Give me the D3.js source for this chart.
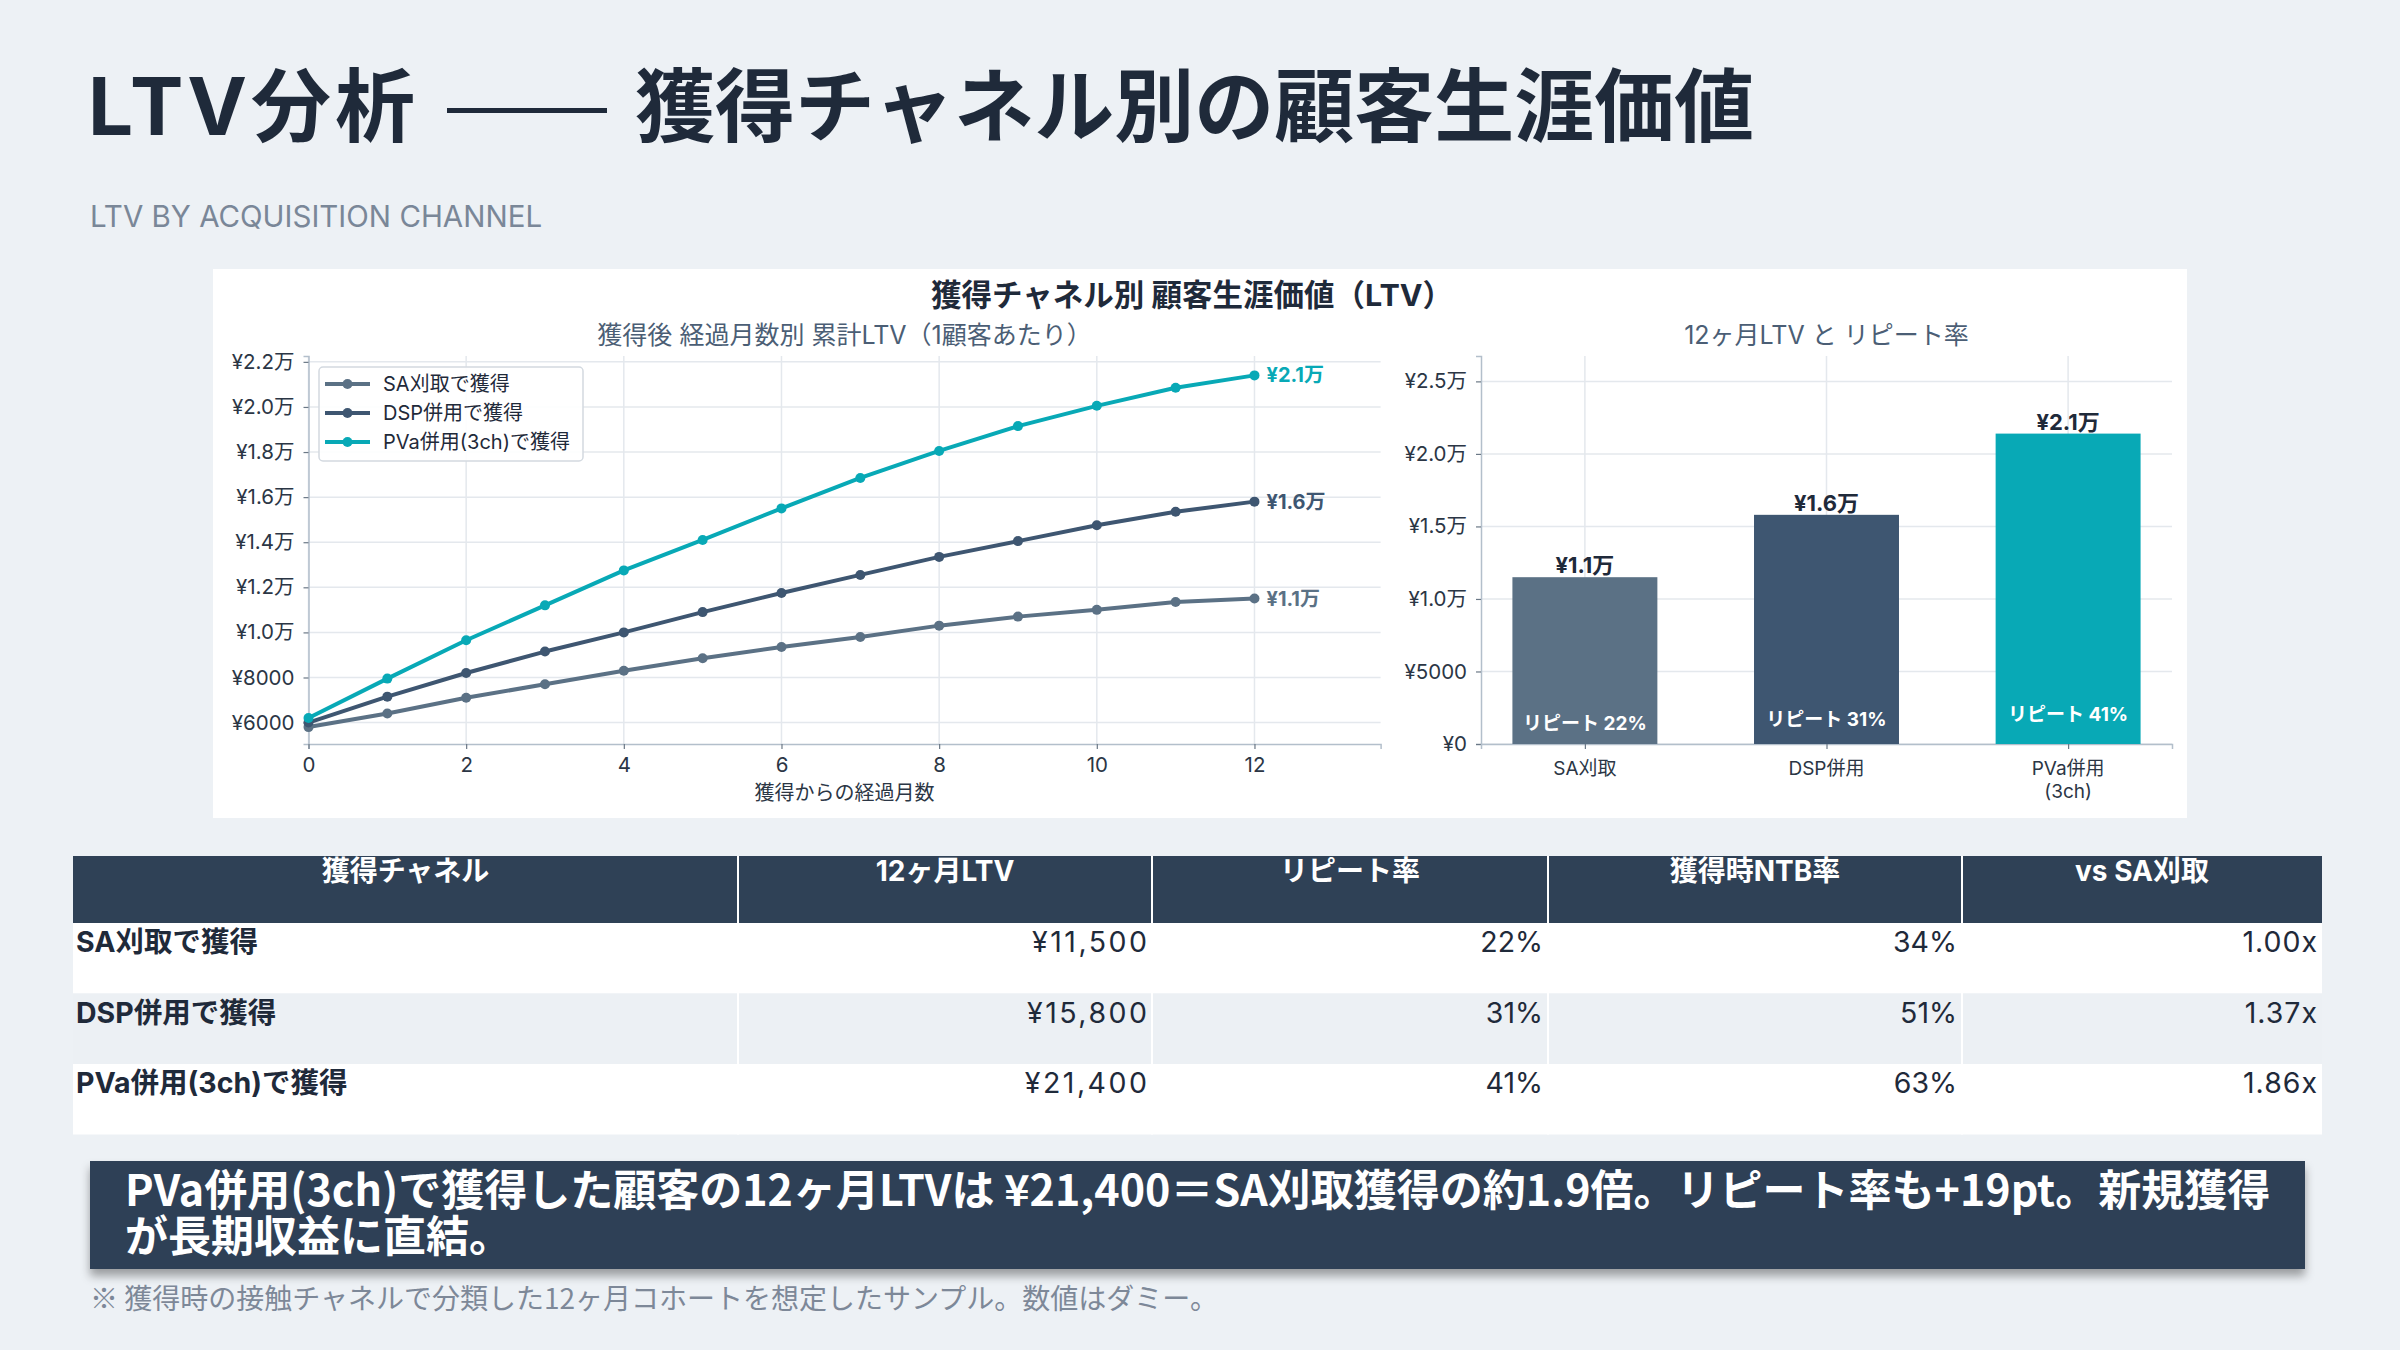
<!DOCTYPE html>
<html>
<head>
<meta charset="utf-8">
<script src="https://cdn.jsdelivr.net/npm/d3@7"></script>
<style>
  html, body { margin: 0; padding: 0; background: #edf1f5; }
  svg { display: block; }
  text { font-family: Inter, "Noto Sans CJK JP", sans-serif; }
  text.jp { font-family: "Noto Sans CJK JP", "Noto Sans", sans-serif; }
</style>
</head>
<body>
<div id="slide"></div>
<script>
//////////////////////////////////////////////////////////////////////////////
// Data

var months = [0, 1, 2, 3, 4, 5, 6, 7, 8, 9, 10, 11, 12];
var seriesNames = ["SA刈取で獲得", "DSP併用で獲得", "PVa併用(3ch)で獲得"];
var saLTV  = [5800, 6400, 7100, 7700, 8300, 8850, 9350, 9800, 10300, 10700, 11000, 11350, 11500];
var dspLTV = [6000, 7150, 8200, 9150, 10000, 10900, 11750, 12550, 13350, 14050, 14750, 15350, 15800];
var pvaLTV = [6200, 7950, 9650, 11200, 12750, 14100, 15500, 16850, 18050, 19150, 20050, 20850, 21400];

var barLabels = [["SA刈取"], ["DSP併用"], ["PVa併用", "(3ch)"]];
var ltv12 = [11500, 15800, 21400];
var repeatRate = [22, 31, 41];
var ntbRate = [34, 51, 63];

var lineTicks = [6000, 8000, 10000, 12000, 14000, 16000, 18000, 20000, 22000];
var monthTicks = [0, 2, 4, 6, 8, 10, 12];
var barTicks = [0, 5000, 10000, 15000, 20000, 25000];

var tableHeaders = ["獲得チャネル", "12ヶ月LTV", "リピート率", "獲得時NTB率", "vs SA刈取"];

var colors = ["#5b7185", "#3e5671", "#08a9b6"];
var navy = "#2f4156";

//////////////////////////////////////////////////////////////////////////////
// Helpers

var W = 2400, H = 1350;
var svg = d3.select("#slide").append("svg").attr("width", W).attr("height", H);

function yen(v) {
    if (v === 0) return "¥0";
    if (v >= 10000) return "¥" + (v / 10000).toFixed(1) + "万";
    return "¥" + v;
}

var defs = svg.append("defs");
defs.append("filter").attr("id", "shadow")
    .attr("x", "-5%").attr("y", "-30%").attr("width", "110%").attr("height", "170%")
    .append("feDropShadow")
    .attr("dx", 0).attr("dy", 7).attr("stdDeviation", 5)
    .attr("flood-color", "#000").attr("flood-opacity", 0.35);

//////////////////////////////////////////////////////////////////////////////
// Header

var title = svg.append("text").attr("y", 135)
    .attr("font-size", 80).attr("font-weight", 700).attr("fill", "#1f2a3a");
title.append("tspan").attr("x", 88).attr("letter-spacing", 4).text("LTV分析 ");
title.append("tspan").attr("x", 447).attr("font-weight", 300).text("—— ");
title.append("tspan").attr("x", 635).text("獲得チャネル別の顧客生涯価値");

svg.append("text").attr("x", 90).attr("y", 227)
    .attr("font-size", 29.5).attr("fill", "#7a8798")
    .text("LTV BY ACQUISITION CHANNEL");

//////////////////////////////////////////////////////////////////////////////
// Chart panel

svg.append("rect").attr("x", 213).attr("y", 269).attr("width", 1974).attr("height", 549)
    .attr("fill", "#fff");

svg.append("text").attr("x", 1192).attr("y", 306).attr("text-anchor", "middle")
    .attr("font-size", 30.5).attr("font-weight", 700).attr("fill", "#1f2a3a")
    .text("獲得チャネル別 顧客生涯価値（LTV）");

var gridColor = "#e4e8ed", spineColor = "#b3bfcb", tickText = "#2b3645";

// ---- line chart
var lx = d3.scaleLinear().domain([0, 13.6]).range([308.5, 1380.6]);
var ly = d3.scaleLinear().domain([5050, 22260]).range([744, 356]);

var lc = svg.append("g");
lc.append("text").attr("x", (308.5 + 1380.6) / 2).attr("y", 344).attr("text-anchor", "middle")
    .attr("font-size", 25).attr("fill", "#4b5e75")
    .text("獲得後 経過月数別 累計LTV（1顧客あたり）");

lc.selectAll(".hg").data(lineTicks).enter().append("line")
    .attr("x1", lx(0)).attr("x2", lx(13.6))
    .attr("y1", d => ly(d)).attr("y2", d => ly(d))
    .attr("stroke", gridColor).attr("stroke-width", 1.5);
lc.selectAll(".vg").data(monthTicks).enter().append("line")
    .attr("x1", d => lx(d)).attr("x2", d => lx(d))
    .attr("y1", 356).attr("y2", 744)
    .attr("stroke", gridColor).attr("stroke-width", 1.5);

var lyAxis = lc.append("g").attr("transform", "translate(308.5,0)")
    .call(d3.axisLeft(ly).tickValues(lineTicks).tickFormat(yen).tickSize(5).tickPadding(9));
var lxAxis = lc.append("g").attr("transform", "translate(0,744)")
    .call(d3.axisBottom(lx).tickValues(monthTicks).tickSize(5).tickPadding(8));
[lyAxis, lxAxis].forEach(function(a) {
    a.select(".domain").attr("stroke", spineColor).attr("stroke-width", 1.5);
    a.selectAll(".tick line").attr("stroke", "#6b7886").attr("stroke-width", 1.2);
    a.selectAll(".tick text").attr("font-size", 20.5).attr("fill", tickText)
        .attr("font-family", "Inter, 'Noto Sans CJK JP', sans-serif");
});

lc.append("text").attr("x", (308.5 + 1380.6) / 2).attr("y", 800).attr("text-anchor", "middle")
    .attr("font-size", 20).attr("fill", tickText).text("獲得からの経過月数");

var series = [saLTV, dspLTV, pvaLTV];
var line = d3.line().x((d, i) => lx(months[i])).y(d => ly(d));
series.forEach(function(vals, s) {
    lc.append("path").datum(vals).attr("d", line)
        .attr("fill", "none").attr("stroke", colors[s]).attr("stroke-width", 4)
        .attr("stroke-linejoin", "round");
    lc.selectAll(".pt" + s).data(vals).enter().append("circle")
        .attr("cx", (d, i) => lx(months[i])).attr("cy", d => ly(d))
        .attr("r", 5).attr("fill", colors[s]);
    var last = vals[vals.length - 1];
    lc.append("text").attr("x", lx(months[months.length - 1]) + 12).attr("y", ly(last))
        .attr("dy", "0.35em").attr("font-size", 20).attr("font-weight", 700)
        .attr("fill", colors[s]).text(yen(last));
});

// legend
var lg = lc.append("g").attr("transform", "translate(319,367)");
lg.append("rect").attr("width", 264).attr("height", 94).attr("rx", 4)
    .attr("fill", "#fff").attr("fill-opacity", 0.9)
    .attr("stroke", "#d3d9e0").attr("stroke-width", 1.5);
seriesNames.forEach(function(name, s) {
    var yy = 17 + s * 29;
    lg.append("line").attr("x1", 6).attr("x2", 51).attr("y1", yy).attr("y2", yy)
        .attr("stroke", colors[s]).attr("stroke-width", 4);
    lg.append("circle").attr("cx", 28.5).attr("cy", yy).attr("r", 5).attr("fill", colors[s]);
    lg.append("text").attr("x", 64).attr("y", yy).attr("dy", "0.35em")
        .attr("font-size", 20).attr("fill", "#1f2a3a").text(name);
});

// ---- bar chart
var bx = d3.scaleLinear().domain([-0.43, 2.43]).range([1481, 2172]);
var by = d3.scaleLinear().domain([0, 26750]).range([744, 356]);
var barW = bx(0.3) - bx(-0.3);

var bc = svg.append("g");
bc.append("text").attr("x", (1481 + 2172) / 2).attr("y", 344).attr("text-anchor", "middle")
    .attr("font-size", 25).attr("fill", "#4b5e75").text("12ヶ月LTV と リピート率");

bc.selectAll(".hg").data(barTicks).enter().append("line")
    .attr("x1", 1481).attr("x2", 2172)
    .attr("y1", d => by(d)).attr("y2", d => by(d))
    .attr("stroke", gridColor).attr("stroke-width", 1.5);
bc.selectAll(".vg").data(ltv12).enter().append("line")
    .attr("x1", (d, i) => bx(i)).attr("x2", (d, i) => bx(i))
    .attr("y1", 356).attr("y2", 744)
    .attr("stroke", gridColor).attr("stroke-width", 1.5);

var byAxis = bc.append("g").attr("transform", "translate(1481,0)")
    .call(d3.axisLeft(by).tickValues(barTicks).tickFormat(yen).tickSize(5).tickPadding(9));
var bxAxis = bc.append("g").attr("transform", "translate(0,744)")
    .call(d3.axisBottom(bx).tickValues([0, 1, 2]).tickFormat("").tickSize(5));
[byAxis, bxAxis].forEach(function(a) {
    a.select(".domain").attr("stroke", spineColor).attr("stroke-width", 1.5);
    a.selectAll(".tick line").attr("stroke", "#6b7886").attr("stroke-width", 1.2);
    a.selectAll(".tick text").attr("font-size", 20.5).attr("fill", tickText)
        .attr("font-family", "Inter, 'Noto Sans CJK JP', sans-serif");
});

barLabels.forEach(function(lines, i) {
    lines.forEach(function(t, k) {
        bc.append("text").attr("x", bx(i)).attr("y", 775 + k * 23).attr("text-anchor", "middle")
            .attr("font-size", 19).attr("fill", tickText).text(t);
    });
});

bc.selectAll(".bar").data(ltv12).enter().append("rect")
    .attr("x", (d, i) => bx(i) - barW / 2).attr("width", barW)
    .attr("y", d => by(d)).attr("height", d => by(0) - by(d))
    .attr("fill", (d, i) => colors[i]);

bc.selectAll(".bv").data(ltv12).enter().append("text")
    .attr("x", (d, i) => bx(i)).attr("y", d => by(d) - 4).attr("text-anchor", "middle")
    .attr("font-size", 22).attr("font-weight", 700).attr("fill", "#1f2a3a")
    .text(yen);

bc.selectAll(".br").data(ltv12).enter().append("text")
    .attr("x", (d, i) => bx(i)).attr("y", d => by(d * 0.065 + 650)).attr("dy", "0.35em")
    .attr("text-anchor", "middle")
    .attr("font-size", 19).attr("font-weight", 700).attr("fill", "#fff")
    .text((d, i) => "リピート " + repeatRate[i] + "%");

//////////////////////////////////////////////////////////////////////////////
// Table

var colEdges = [73, 738, 1152, 1548, 1962, 2322];
var headTop = 856, headH = 67, rowH = 70.5;
var tb = svg.append("g");

tb.append("rect").attr("x", colEdges[0]).attr("y", headTop)
    .attr("width", colEdges[5] - colEdges[0]).attr("height", headH).attr("fill", navy);
tableHeaders.forEach(function(h, c) {
    tb.append("text").attr("x", (colEdges[c] + colEdges[c + 1]) / 2).attr("y", headTop + 25)
        .attr("text-anchor", "middle").attr("font-size", 28).attr("font-weight", 700)
        .attr("fill", "#fff").text(h);
});

var rows = seriesNames.map(function(name, i) {
    return [name, "¥" + d3.format(",")(ltv12[i]), repeatRate[i] + "%", ntbRate[i] + "%",
            (ltv12[i] / ltv12[0]).toFixed(2) + "x"];
});
rows.forEach(function(r, i) {
    var top = headTop + headH + i * rowH;
    tb.append("rect").attr("x", colEdges[0]).attr("y", top)
        .attr("width", colEdges[5] - colEdges[0]).attr("height", rowH)
        .attr("fill", i % 2 === 1 ? "#ecf0f4" : "#fff");
    r.forEach(function(v, c) {
        var first = c === 0;
        var spacing = c === 1 ? 2.5 : (c === 4 ? 1 : 0);
        tb.append("text")
            .attr("x", first ? colEdges[0] + 3 : colEdges[c + 1] - 5 + spacing)
            .attr("y", top + 29)
            .attr("text-anchor", first ? "start" : "end")
            .attr("letter-spacing", spacing)
            .attr("font-size", 28.5).attr("font-weight", first ? 700 : 400)
            .attr("fill", "#1f2a3a").text(v);
    });
});
tb.selectAll(".sep").data(colEdges.slice(1, 5)).enter().append("line")
    .attr("x1", d => d).attr("x2", d => d)
    .attr("y1", headTop).attr("y2", headTop + headH + 3 * rowH)
    .attr("stroke", "#fff").attr("stroke-width", 2);

//////////////////////////////////////////////////////////////////////////////
// Callout + footnote

var calloutLines = [
    "PVa併用(3ch)で獲得した顧客の12ヶ月LTVは ¥21,400＝SA刈取獲得の約1.9倍。リピート率も+19pt。新規獲得",
    "が長期収益に直結。"
];
svg.append("rect").attr("x", 90).attr("y", 1161).attr("width", 2215).attr("height", 108)
    .attr("fill", navy).attr("filter", "url(#shadow)");
calloutLines.forEach(function(t, k) {
    svg.append("text").attr("class", "jp").attr("x", 125).attr("y", 1206 + k * 46)
        .attr("font-size", 43).attr("font-weight", 700).attr("fill", "#fff").text(t);
});

svg.append("text").attr("class", "jp").attr("x", 90).attr("y", 1309)
    .attr("font-size", 28).attr("fill", "#7d8898")
    .text("※ 獲得時の接触チャネルで分類した12ヶ月コホートを想定したサンプル。数値はダミー。");
</script>
</body>
</html>
